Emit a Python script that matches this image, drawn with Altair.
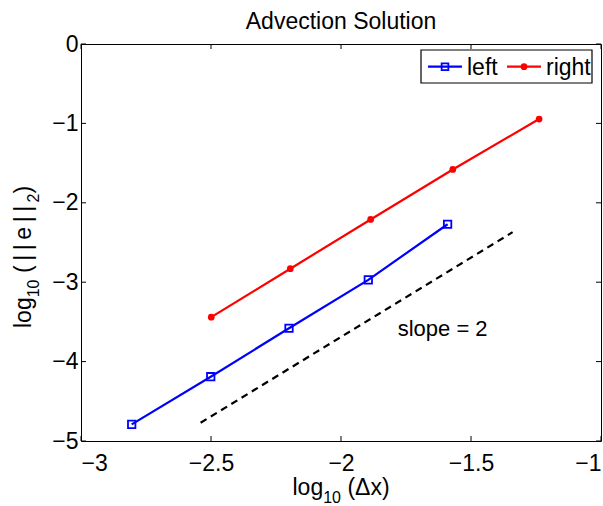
import altair as alt
import pandas as pd

FONT = "Liberation Sans"

# ---- data ----
series_names = ["left", "right"]
series_colors = ["#0000ff", "#ff0000"]
left_x = [-2.805, -2.501, -2.200, -1.895, -1.590]
left_y = [-4.79, -4.19, -3.58, -2.97, -2.27]
right_x = [-2.499, -2.195, -1.886, -1.570, -1.238]
right_y = [-3.44, -2.83, -2.21, -1.58, -0.945]
ref_x = [-2.54, -1.34]
ref_y = [-4.77, -2.37]
slope_label = "slope = 2"
slope_pos = [-1.782, -3.59]
x_ticks = [-3, -2.5, -2, -1.5, -1]
y_ticks = [0, -1, -2, -3, -4, -5]
title_text = "Advection Solution"

W, H = 520, 397

df = pd.DataFrame({
    "series": [series_names[0]] * len(left_x) + [series_names[1]] * len(right_x),
    "x": left_x + right_x,
    "y": left_y + right_y,
})
ref_df = pd.DataFrame({"x": ref_x, "y": ref_y})
one = pd.DataFrame({"a": [0]})

xs = alt.Scale(domain=[-3, -1], nice=False, zero=False)
ys = alt.Scale(domain=[-5, 0], nice=False, zero=False)
xaxis = alt.Axis(values=x_ticks, format=".1~f", title=None, ticks=False, tickSize=0,
                 domain=False, grid=False, labelFont=FONT, labelFontSize=23,
                 labelColor="black", labelPadding=11)
yaxis = alt.Axis(values=y_ticks, format="d", title=None, ticks=False, tickSize=0,
                 domain=False, grid=False, labelFont=FONT, labelFontSize=23,
                 labelColor="black", labelPadding=3)
X = lambda f: alt.X(f, scale=xs, axis=xaxis)
Y = lambda f: alt.Y(f, scale=ys, axis=yaxis)

color = alt.Color("series:N", scale=alt.Scale(domain=series_names, range=series_colors), legend=None)

lines = alt.Chart(df).mark_line(strokeWidth=2.2).encode(x=X("x:Q"), y=Y("y:Q"), color=color)
pts_left = alt.Chart(df).transform_filter(alt.datum.series == series_names[0]).mark_point(
    shape="square", filled=False, size=55, strokeWidth=1.8, color=series_colors[0], opacity=1
).encode(x=X("x:Q"), y=Y("y:Q"))
pts_right = alt.Chart(df).transform_filter(alt.datum.series == series_names[1]).mark_circle(
    size=45, color=series_colors[1], opacity=1
).encode(x=X("x:Q"), y=Y("y:Q"))
ref = alt.Chart(ref_df).mark_line(color="black", strokeDash=[7, 5], strokeWidth=2.2).encode(
    x=X("x:Q"), y=Y("y:Q"))
slope_txt = alt.Chart(pd.DataFrame({"x": [slope_pos[0]], "y": [slope_pos[1]], "t": [slope_label]})).mark_text(
    align="left", baseline="middle", font=FONT, fontSize=22, color="black"
).encode(x=X("x:Q"), y=Y("y:Q"), text="t:N")

# inward tick marks (MATLAB box style)
xt = pd.DataFrame({"v": x_ticks})
yt = pd.DataFrame({"v": y_ticks})
tick_layers = [
    alt.Chart(xt).mark_rule(color="black", strokeWidth=1).encode(x=X("v:Q"), y=alt.value(H), y2=alt.value(H - 5)),
    alt.Chart(xt).mark_rule(color="black", strokeWidth=1).encode(x=X("v:Q"), y=alt.value(0), y2=alt.value(5)),
    alt.Chart(yt).mark_rule(color="black", strokeWidth=1).encode(y=Y("v:Q"), x=alt.value(0), x2=alt.value(5)),
    alt.Chart(yt).mark_rule(color="black", strokeWidth=1).encode(y=Y("v:Q"), x=alt.value(W), x2=alt.value(W - 5)),
]

# legend box (manual, MATLAB style)
leg = [alt.Chart(one).mark_rect(fill="white", stroke="black", strokeWidth=1.2).encode(
    x=alt.value(340), x2=alt.value(511), y=alt.value(6), y2=alt.value(39))]
leg_x0 = [347, 426]
for i, name in enumerate(series_names):
    x0 = leg_x0[i]
    leg.append(alt.Chart(one).mark_rule(color=series_colors[i], strokeWidth=2.2).encode(
        x=alt.value(x0), x2=alt.value(x0 + 34), y=alt.value(22.7)))
    if i == 0:
        leg.append(alt.Chart(one).mark_point(shape="square", filled=False, size=45, strokeWidth=1.8,
                                             color=series_colors[i], opacity=1).encode(
            x=alt.value(x0 + 17), y=alt.value(22.7)))
    else:
        leg.append(alt.Chart(one).mark_circle(size=45, color=series_colors[i], opacity=1).encode(
            x=alt.value(x0 + 17), y=alt.value(22.7)))
    leg.append(alt.Chart(pd.DataFrame({"t": [name]})).mark_text(
        align="left", baseline="alphabetic", font=FONT, fontSize=23, color="black").encode(
        x=alt.value(x0 + 39), y=alt.value(31), text="t:N"))

# titles with subscripts
def txt(s, x, y, size, angle=0):
    return alt.Chart(pd.DataFrame({"t": [s]})).mark_text(
        align="left", baseline="alphabetic", font=FONT, fontSize=size, color="black", angle=angle
    ).encode(x=alt.value(x), y=alt.value(y), text="t:N")

TS = "\u2009"  # thin space
titles = [
    alt.Chart(pd.DataFrame({"t": [title_text]})).mark_text(
        align="center", baseline="alphabetic", font=FONT, fontSize=23, color="black"
    ).encode(x=alt.value(W / 2), y=alt.value(-15), text="t:N"),
    # x title: log10 (Δx)
    txt("log", 211.5, 451, 23),
    txt("10", 242.2, 459, 16),
    txt("(Δx)", 266.4, 451, 23),
    # y title: log10 (||e||2)
    txt("log", -50, 284, 23, 270),
    txt("10", -42, 253.3, 16, 270),
    txt("(" + TS + "|" + TS + "|" + TS + "e" + TS + "|" + TS + "|", -50, 229.1, 23, 270),
    txt("2", -42, 158.5, 16, 270),
    txt(")", -50, 149.6, 23, 270),
]

chart = alt.layer(
    lines, ref, pts_left, pts_right, slope_txt, *tick_layers, *leg, *titles
).properties(
    width=W, height=H,
    padding={"left": 81, "top": 44, "right": 2, "bottom": 65},
    autosize=alt.AutoSizeParams(type="none"),
).configure_view(stroke="black", strokeWidth=1)

chart.save("out.html", embed_options={"renderer": "svg", "actions": False})
